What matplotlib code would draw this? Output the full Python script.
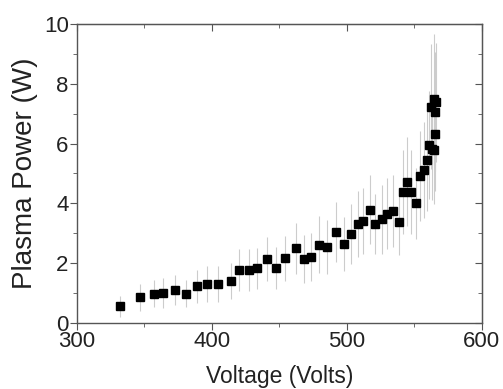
import numpy as np
import matplotlib
matplotlib.use('Agg')
import matplotlib.pyplot as plt
from matplotlib.ticker import MultipleLocator

plt.rcParams['font.family'] = ['Liberation Sans', 'DejaVu Sans']
plt.rcParams['font.size'] = 15

# 数据
voltage = [332.1, 346.4, 356.8, 363.7, 372.6, 381.0, 389.1, 396.3, 404.2, 414.1,
           420.2, 427.4, 433.6, 440.7, 447.4, 454.1, 462.0, 468.1, 473.3, 479.3,
           484.9, 491.9, 497.5, 502.7, 508.4, 511.9, 517.0, 520.7, 526.2, 529.6,
           534.3, 538.8, 541.2, 544.7, 547.6, 551.4, 554.1, 556.8, 559.0, 560.7,
           562.2, 563.0, 564.4, 564.9, 565.2, 565.4, 566.2]
power = [0.56, 0.86, 0.97, 1.01, 1.10, 0.98, 1.22, 1.29, 1.31, 1.39,
         1.78, 1.77, 1.82, 2.14, 1.84, 2.16, 2.49, 2.13, 2.20, 2.62,
         2.54, 3.04, 2.64, 2.97, 3.30, 3.42, 3.79, 3.31, 3.47, 3.66,
         3.74, 3.36, 4.37, 4.73, 4.38, 4.00, 4.92, 5.12, 5.46, 5.96,
         7.24, 5.81, 7.48, 5.79, 6.31, 7.07, 7.38]
power_err = [0.35, 0.45, 0.45, 0.50, 0.50, 0.45, 0.55, 0.60, 0.60, 0.60,
             0.70, 0.70, 0.70, 0.75, 0.70, 0.75, 0.85, 0.80, 0.80, 0.95,
             0.90, 1.00, 0.90, 1.00, 1.10, 1.10, 1.15, 1.00, 1.15, 1.20,
             1.20, 1.10, 1.40, 1.50, 1.40, 1.20, 1.50, 1.60, 1.70, 1.80,
             2.10, 1.70, 2.20, 1.80, 1.90, 2.00, 2.00]

fig = plt.figure(figsize=(5.03, 3.89), dpi=100)
ax = fig.add_axes([0.153, 0.170, 0.805, 0.768])

ax.errorbar(voltage, power, yerr=power_err, fmt='none', ecolor='#cccccc',
            elinewidth=0.8, capsize=0, zorder=1)
ax.plot(voltage, power, 's', color='black', markersize=5.3, zorder=3)

ax.set_xlim(300, 600)
ax.set_ylim(0, 10)
ax.xaxis.set_major_locator(MultipleLocator(100))
ax.xaxis.set_minor_locator(MultipleLocator(50))
ax.yaxis.set_major_locator(MultipleLocator(2))
ax.yaxis.set_minor_locator(MultipleLocator(1))

axis_col = '#555555'
for s in ax.spines.values():
    s.set_color(axis_col)
    s.set_linewidth(1.0)
ax.tick_params(which='both', direction='out', color=axis_col, labelcolor='#222222',
               labelsize=16, pad=1)
ax.tick_params(which='major', length=5)
ax.tick_params(which='minor', length=3)

# 上、右边框的内向刻度
axt = ax.secondary_xaxis('top')
axt.xaxis.set_major_locator(MultipleLocator(100))
axt.xaxis.set_minor_locator(MultipleLocator(50))
axt.tick_params(which='both', direction='in', color=axis_col, labeltop=False)
axt.tick_params(which='major', length=5)
axt.tick_params(which='minor', length=3)
axr = ax.secondary_yaxis('right')
axr.yaxis.set_major_locator(MultipleLocator(2))
axr.yaxis.set_minor_locator(MultipleLocator(1))
axr.tick_params(which='both', direction='in', color=axis_col, labelright=False)
axr.tick_params(which='major', length=5)
axr.tick_params(which='minor', length=3)
for a in (axt, axr):
    for s in a.spines.values():
        s.set_color(axis_col)

ax.set_xlabel('Voltage (Volts)', fontsize=16.5, color='#222222', labelpad=9)
ax.set_ylabel('Plasma Power (W)', fontsize=20, color='#222222', labelpad=4)

fig.savefig('out.png', dpi=100)
